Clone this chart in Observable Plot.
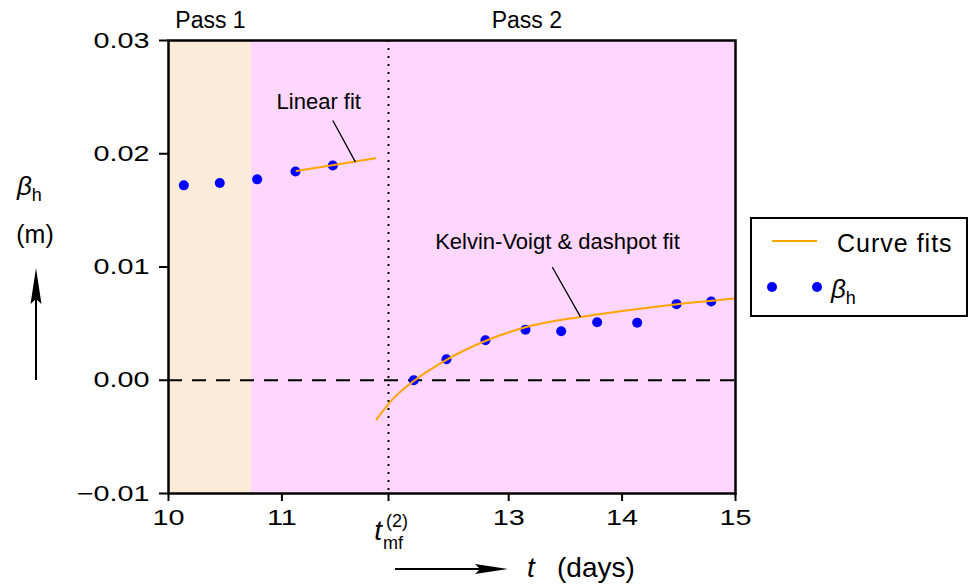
<!DOCTYPE html>
<html><head><meta charset="utf-8">
<script src="https://cdn.jsdelivr.net/npm/d3@7"></script>
<script src="https://cdn.jsdelivr.net/npm/@observablehq/plot@0.6"></script>
<style>
body{margin:0;background:#fff;}
#chart{position:relative;width:969px;height:584px;}
g[aria-label="annotation"] text{letter-spacing:1px;}
</style></head><body><div id="chart"></div>
<script>
// ---- data ----
const passNames = ["Pass 1", "Pass 2"];
const passStart = [10, 10.73];
const passEnd = [10.73, 15];
const passLabelX = [10.37, 13.16];
const passColors = ["#fdebda", "#fed6fe"];

const pass1T = [10.135, 10.452, 10.782, 11.120, 11.449];
const pass1B = [0.01721, 0.01741, 0.01774, 0.01844, 0.01897];
const pass2T = [12.163, 12.451, 12.795, 13.148, 13.463, 13.780, 14.133, 14.480, 14.786];
const pass2B = [0.0000, 0.00185, 0.00353, 0.00447, 0.00432, 0.00512, 0.00507, 0.00672, 0.00695];

const linFitT = [11.129, 11.825];
const linFitB = [0.01847, 0.01961];
const kvFitT = [11.834, 11.973, 12.163, 12.443, 12.810, 13.148, 13.633, 13.986, 14.486, 15.0];
const kvFitB = [-0.00347, -0.00171, -0.00006, 0.00176, 0.00353, 0.00468, 0.00559, 0.00609, 0.00671, 0.00721];

const tMF = 11.94;
const xTicks = [10, 11, tMF, 13, 14, 15];
const yTicks = [-0.01, 0.00, 0.01, 0.02, 0.03];
const xDomain = [10, 15];
const yDomain = [-0.01, 0.03];

const annLabels = ["Linear fit", "Kelvin-Voigt & dashpot fit"];
const annX = [11.325, 13.430];
const annY = [0.02457, 0.01218];
const leadX1 = [11.449, 13.384];
const leadY1 = [0.02294, 0.01000];
const leadX2 = [11.649, 13.633];
const leadY2 = [0.01926, 0.00559];

const ORANGE = "#ffa500";
const BLUE = "#0000ff";
const FONT = "Liberation Sans, Arial, Helvetica, sans-serif";

// ---- tables ----
const passes = passNames.map((n, i) => ({name: n, x1: passStart[i], x2: passEnd[i], lx: passLabelX[i], color: passColors[i]}));
const points = [...pass1T.map((t, i) => ({t, b: pass1B[i]})), ...pass2T.map((t, i) => ({t, b: pass2B[i]}))];
const linFit = linFitT.map((t, i) => ({t, b: linFitB[i]}));
const kvFit = kvFitT.map((t, i) => ({t, b: kvFitB[i]}));
const annots = annLabels.map((l, i) => ({label: l, x: annX[i], y: annY[i]}));
const leaders = leadX1.map((x, i) => ({x1: x, y1: leadY1[i], x2: leadX2[i], y2: leadY2[i]}));

const plot = Plot.plot({
  width: 969, height: 584,
  marginLeft: 168, marginRight: 234, marginTop: 40, marginBottom: 91,
  style: {fontFamily: FONT, fontSize: "22px", color: "black", background: "white"},
  x: {domain: xDomain, label: null},
  y: {domain: yDomain, label: null},
  marks: [
    Plot.rect(passes, {x1: "x1", x2: "x2", fill: "color"}),
    Plot.ruleY([0], {stroke: "black", strokeWidth: 2, strokeDasharray: "14,10"}),
    Plot.ruleX([tMF], {stroke: "black", strokeWidth: 2, strokeDasharray: "2,6"}),
    Plot.dot(points, {x: "t", y: "b", r: 5, fill: BLUE, stroke: "none"}),
    Plot.line(linFit, {x: "t", y: "b", stroke: ORANGE, strokeWidth: 2}),
    Plot.line(kvFit, {x: "t", y: "b", stroke: ORANGE, strokeWidth: 2, curve: "monotone-x"}),
    Plot.link(leaders, {x1: "x1", y1: "y1", x2: "x2", y2: "y2", stroke: "black", strokeWidth: 1.3}),
    Plot.text(annots, {x: "x", y: "y", text: "label", fontSize: 22, fill: "black", ariaLabel: "annotation"}),
    Plot.text(passes, {x: "lx", y: () => yDomain[1], dy: -20, text: "name", fontSize: 23, fill: "black", lineAnchor: "middle"}),
    Plot.frame({stroke: "black", strokeWidth: 2.5}),
    Plot.axisY({ticks: yTicks, tickFormat: d3.format(".2f"), tickSize: 9, tickPadding: 10, fontSize: 22.5, strokeWidth: 2, label: null}),
    Plot.axisX({ticks: xTicks, tickFormat: d => d === tMF ? "" : String(d), tickSize: 8, tickPadding: 8, fontSize: 22.5, strokeWidth: 2, label: null})
  ]
});

document.getElementById("chart").appendChild(plot);
const svg = d3.select(plot);

// stretch tick label glyphs horizontally like the reference
svg.selectAll('g[aria-label="x-axis tick label"] text, g[aria-label="y-axis tick label"] text').each(function () {
  const tr = this.getAttribute("transform");
  if (tr) {
    this.setAttribute("transform", tr + " scale(1.28,1)");
  } else {
    const x = +this.getAttribute("x") || 0, y = +this.getAttribute("y") || 0;
    this.setAttribute("x", 0); this.setAttribute("y", 0);
    this.setAttribute("transform", `translate(${x},${y}) scale(1.28,1)`);
  }
});

// t_mf^(2) tick label
const sx = plot.scale("x");
const fx = sx.apply ? (v => sx.apply(v)) : d3.scaleLinear(sx.domain, sx.range);
const tx = fx(tMF);
const deco = svg.append("g").attr("font-family", FONT).attr("fill", "black").attr("text-anchor", "start");
deco.append("text").attr("x", tx - 6).attr("y", 540).attr("text-anchor", "end")
  .attr("font-size", 28).attr("font-style", "italic").text("t");
deco.append("text").attr("x", tx - 2).attr("y", 527).attr("font-size", 18).text("(2)");
deco.append("text").attr("x", tx - 5).attr("y", 549).attr("font-size", 18).text("mf");

// y axis label
const yl = deco.append("text").attr("x", 17).attr("y", 195);
yl.append("tspan").attr("font-size", 26).attr("font-style", "italic").text("β");
yl.append("tspan").attr("font-size", 18).attr("dy", 6).text("h");
deco.append("text").attr("x", 35).attr("y", 243).attr("text-anchor", "middle").attr("font-size", 25).text("(m)");
deco.append("line").attr("x1", 36).attr("y1", 380).attr("x2", 36).attr("y2", 295).attr("stroke", "black").attr("stroke-width", 2);
deco.append("polygon").attr("points", "36,268 30.5,304 36,299 41.5,304").attr("fill", "black");

// x axis label
deco.append("line").attr("x1", 395).attr("y1", 569).attr("x2", 485).attr("y2", 569).attr("stroke", "black").attr("stroke-width", 2);
deco.append("polygon").attr("points", "508,569 475,564 480,569 475,574").attr("fill", "black");
deco.append("text").attr("x", 527).attr("y", 577).attr("font-size", 28).attr("font-style", "italic").text("t");
deco.append("text").attr("x", 557).attr("y", 577).attr("font-size", 28).text("(days)");

// legend
const lg = deco.append("g");
lg.append("rect").attr("x", 751).attr("y", 218).attr("width", 216).attr("height", 98)
  .attr("fill", "white").attr("stroke", "black").attr("stroke-width", 2);
lg.append("line").attr("x1", 772).attr("x2", 817).attr("y1", 241).attr("y2", 241).attr("stroke", ORANGE).attr("stroke-width", 2);
lg.append("text").attr("x", 837).attr("y", 252).attr("font-size", 25).attr("letter-spacing", "1px").text("Curve fits");
lg.append("circle").attr("cx", 772).attr("cy", 287).attr("r", 5).attr("fill", BLUE);
lg.append("circle").attr("cx", 817).attr("cy", 287).attr("r", 5).attr("fill", BLUE);
const lb = lg.append("text").attr("x", 831).attr("y", 298);
lb.append("tspan").attr("font-size", 26).attr("font-style", "italic").text("β");
lb.append("tspan").attr("font-size", 18).attr("dy", 6).text("h");
</script></body></html>
